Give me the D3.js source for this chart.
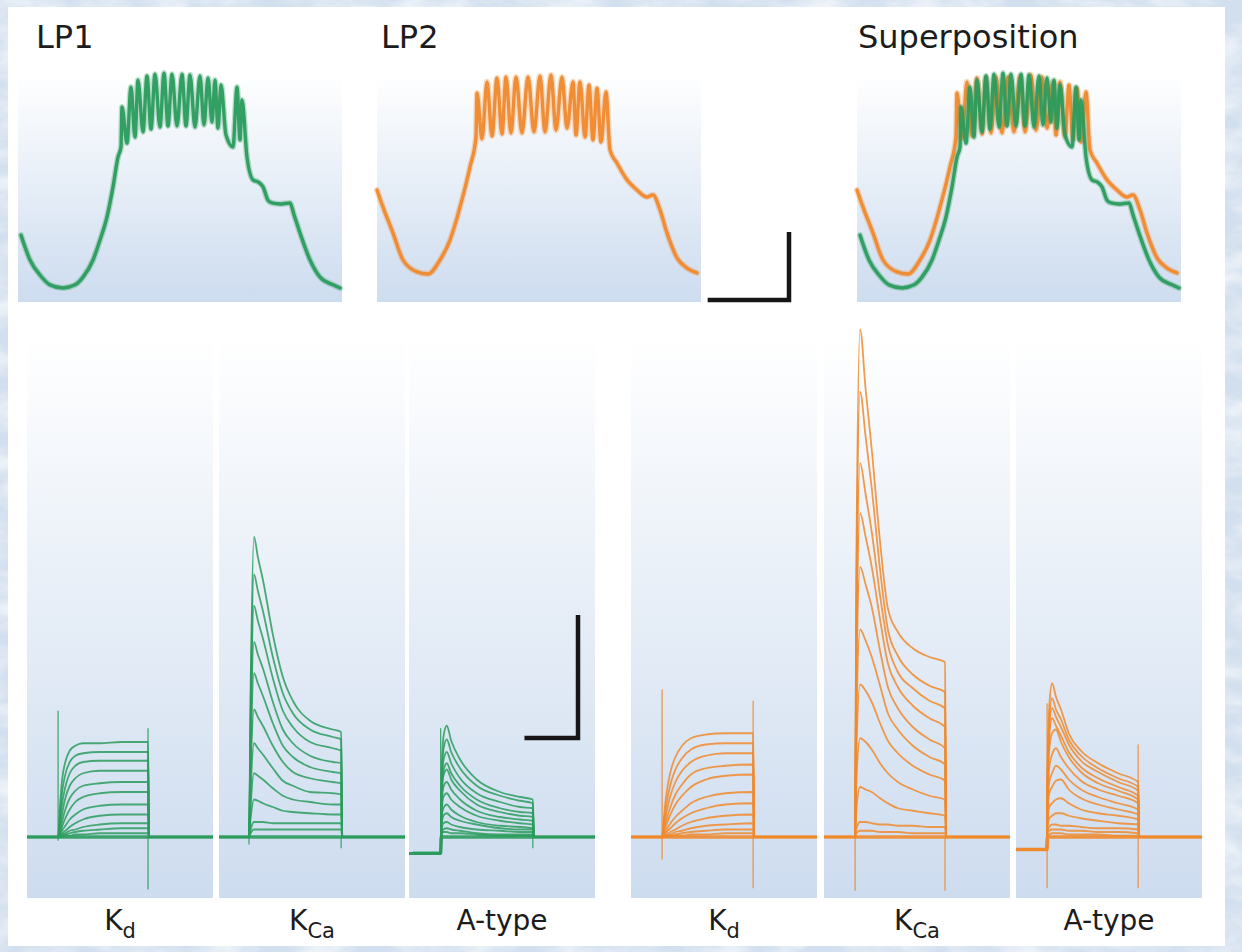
<!DOCTYPE html>
<html>
<head>
<meta charset="utf-8">
<script src="https://cdn.jsdelivr.net/npm/d3@7"></script>
<style>
  body { margin: 0; background: #fff; }
  svg { display: block; }
  text { font-family: "DejaVu Sans", sans-serif; fill: #1c1c1c; }
</style>
</head>
<body>
<div id="chart"></div>
<script>
// ---- voltage traces, one pyloric cycle: [time ms, membrane potential mV] ----
const lp1Trace = [
  [18,-50.9],[72,-58],[132,-62.3],[192,-65.1],[270,-66],[342,-65.1],[390,-62.9],[450,-58],
  [492,-52.3],[534,-45.7],[570,-37.1],[600,-28.6],[618,-25.7],
  [624,-14.3],[654,-24.6],[678,-8.6],[702,-22.9],[720,-6.6],[750,-21.4],[774,-5.4],[798,-20.6],
  [822,-4.9],[852,-20],[876,-4.6],[900,-19.7],[924,-4.9],[954,-19.7],[984,-4.9],[1008,-19.7],
  [1032,-5.1],[1062,-20],[1092,-5.4],[1116,-19.4],[1140,-6],[1164,-18.6],[1182,-6.6],[1200,-20.3],
  [1218,-8],[1248,-22.3],[1290,-25.7],[1314,-8.6],[1332,-23.7],[1344,-12.3],
  [1374,-28.6],[1410,-35.1],[1440,-35.7],[1470,-37.1],[1500,-40.9],[1524,-41.7],[1572,-42],
  [1632,-41.7],[1656,-45.1],[1692,-50.3],[1752,-58],[1812,-62.9],[1890,-65.1],[1932,-66]
];
const lp2Trace = [
  [0,-38],[36,-42.9],[96,-50.3],[156,-58],[240,-61.4],[306,-62],[378,-58],[438,-52.3],
  [498,-42.9],[558,-31.4],[594,-22.9],
  [600,-10.3],[630,-23.4],[660,-7.1],[690,-22.6],[720,-6],[750,-22],[774,-5.7],[804,-21.7],
  [834,-5.7],[870,-21.7],[906,-5.7],[942,-21.4],[978,-5.4],[1008,-21.4],[1044,-5.1],[1074,-20.9],
  [1110,-5.7],[1140,-20.3],[1176,-7.1],[1194,-22.3],[1218,-7.1],[1248,-22.9],[1272,-8],[1296,-23.7],
  [1320,-8.9],[1344,-24.3],[1374,-10],
  [1398,-26.6],[1440,-30.3],[1500,-35.1],[1560,-38],[1620,-40],[1656,-39.4],[1698,-43.7],
  [1740,-50.3],[1800,-57.4],[1860,-60.3],[1920,-61.7]
];

// ---- voltage-clamp current families (ms, nA) ----
// LP1 Kd
const kdLP1Time = [0,56,59,63,69,77,87,101,131,170,218,220,335];
const kdLP1 = [
  [0,0,22,45,60,69,73,75,75,76,76,0,0],
  [0,0,15,35,50,60,65,67,68,68,68,0,0],
  [0,0,10,26,40,51,57,60,61,61,61,0,0],
  [0,0,7,18,31,41,47,51,53,53,53,0,0],
  [0,0,4,12,22,31,37,41,43,44,44,0,0],
  [0,0,3,8,15,22,28,32,35,36,36,0,0],
  [0,0,2,5,9,14,18,22,25,26,26,0,0],
  [0,0,1,3,5,8,11,14,17,18,18,0,0],
  [0,0,1,2,3,5,6,8,10,11,11,0,0],
  [0,0,0,1,2,3,4,5,6,7,7,0,0],
  [0,0,0,0,1,1,2,2,3,3,3,0,0]
];
const kdLP1Rest = [[0,0],[335,0]];
const kdLP1Artifacts = [[56,101,-3],[218,87,-42]];

// LP1 KCa
const kcaLP1Time = [0,54,57,63,70,79,97,115,133,164,205,220,222,335];
const kcaLP1 = [
  [0,0,120,240,224,206,162,128,109,93,86,84,0,0],
  [0,0,105,210,197,181,144,115,99,86,80,78,0,0],
  [0,0,92,185,173,159,127,101,88,76,71,69,0,0],
  [0,0,78,156,146,135,108,86,75,65,60,59,0,0],
  [0,0,65,131,123,113,91,73,64,56,52,51,0,0],
  [0,0,51,102,96,89,73,60,52,47,44,43,0,0],
  [0,0,37,75,71,66,55,45,41,36,35,34,0,0],
  [0,0,25,51,49,46,39,33,30,28,26,26,0,0],
  [0,0,15,30,29,27,24,21,20,19,18,18,0,0],
  [0,0,6,12,12,12,11,11,11,11,11,11,0,0],
  [0,0,3,6,6,6,6,6,6,6,6,6,0,0]
];
const kcaLP1Rest = [[0,0],[335,0]];
const kcaLP1Artifacts = [[54,0,-6],[220,0,-9]];

// LP1 A-type
const aLP1Time = [0,57,59,62,68,76,92,122,164,200,223,225,335];
const aLP1 = [
  [-13,-13,53,80,89,77,62,46,36,32,30,0,0],
  [-13,-13,47,70,78,68,55,41,33,29,27,0,0],
  [-13,-13,41,61,68,59,47,35,28,24,23,0,0],
  [-13,-13,35,53,59,51,41,30,23,20,19,0,0],
  [-13,-13,32,49,54,46,37,26,20,17,16,0,0],
  [-13,-13,26,40,44,38,30,21,16,14,13,0,0],
  [-13,-13,21,32,35,30,24,17,13,11,10,0,0],
  [-13,-13,16,23,26,22,17,12,9,8,7,0,0],
  [-13,-13,11,17,19,16,13,10,7,6,6,0,0],
  [-13,-13,7,11,12,10,8,6,5,4,4,0,0],
  [-13,-13,4,6,7,6,5,3,2,2,2,0,0],
  [-13,-13,2,4,4,3,3,2,1,1,1,0,0]
];
const aLP1Rest = [[7,-13],[57,-13],[58,0],[335,0]];
const aLP1Artifacts = [[57,87,-13],[223,5,-9]];

// LP2 Kd
const kdLP2Time = [0,56,59,64,71,80,92,108,135,170,220,222,335];
const kdLP2 = [
  [0,0,15,35,52,64,73,79,82,83,83,0,0],
  [0,0,11,27,42,54,63,70,74,75,75,0,0],
  [0,0,8,20,33,44,53,60,65,67,67,0,0],
  [0,0,6,14,24,34,42,50,55,57,58,0,0],
  [0,0,4,10,18,26,33,40,46,49,50,0,0],
  [0,0,2,6,11,16,21,27,32,35,36,0,0],
  [0,0,1,4,7,11,15,19,23,26,27,0,0],
  [0,0,1,2,4,6,9,12,15,17,18,0,0],
  [0,0,0,1,2,4,5,7,9,10,11,0,0],
  [0,0,0,1,1,2,3,4,5,6,6,0,0],
  [0,0,0,0,1,1,1,2,2,3,3,0,0]
];
const kdLP2Rest = [[0,0],[335,0]];
const kdLP2Artifacts = [[56,118,-18],[220,109,-41]];

// LP2 KCa
const kcaLP2Time = [0,56,58,65,75,86,101,115,133,160,190,218,220,335];
const kcaLP2 = [
  [0,0,203,406,358,310,236,183,164,151,144,140,0,0],
  [0,0,178,356,320,279,214,166,145,130,121,116,0,0],
  [0,0,150,299,274,244,193,154,132,119,109,103,0,0],
  [0,0,130,259,240,216,174,139,120,105,95,88,0,0],
  [0,0,108,216,202,184,149,120,103,88,78,71,0,0],
  [0,0,83,166,157,144,121,99,86,73,64,58,0,0],
  [0,0,61,122,117,108,91,77,67,57,50,45,0,0],
  [0,0,40,79,76,70,59,51,44,38,33,30,0,0],
  [0,0,20,40,38,36,31,27,23,21,19,17,0,0],
  [0,0,6,12,12,11,10,10,9,9,8,8,0,0],
  [0,0,3,5,5,5,4,4,4,3,3,3,0,0]
];
const kcaLP2Rest = [[0,0],[335,0]];
const kcaLP2Artifacts = [[56,0,-43],[218,0,-43]];

// LP2 A-type
const aLP2Time = [0,55,57,60,65,72,81,95,117,148,184,220,222,335];
const aLP2 = [
  [-10,-10,62,105,123,112,102,83,69,59,51,44,0,0],
  [-10,-10,55,94,111,102,94,78,65,55,47,40,0,0],
  [-10,-10,50,88,103,96,88,74,61,52,44,37,0,0],
  [-10,-10,46,81,95,89,81,68,56,47,40,33,0,0],
  [-10,-10,40,70,83,86,76,64,52,43,37,30,0,0],
  [-10,-10,32,56,66,71,64,55,45,38,33,27,0,0],
  [-10,-10,25,44,51,57,54,46,38,32,27,22,0,0],
  [-10,-10,20,35,40,45,46,38,31,26,22,18,0,0],
  [-10,-10,14,24,27,30,31,27,22,19,17,14,0,0],
  [-10,-10,9,15,17,19,19,17,15,13,11,10,0,0],
  [-10,-10,5,8,10,10,9,9,8,7,7,6,0,0],
  [-10,-10,3,5,6,6,6,5,5,4,4,3,0,0],
  [-10,-10,1,2,3,3,3,2,2,2,1,1,0,0]
];
const aLP2Rest = [[0,-10],[56,-10],[57,0],[335,0]];
const aLP2Artifacts = [[56,107,-41],[220,74,-41]];

const topTitles = ["LP1", "LP2", "Superposition"];
const bottomLabels = [["K","d"],["K","Ca"],["A-type",""],["K","d"],["K","Ca"],["A-type",""]];
const scaleBarTop = { ms: 500, mV: 20 };
const scaleBarBottom = { ms: 100, nA: 100 };

// ---- layout ----
const W = 1242, H = 952;
const GREEN = "#2b9c5d", ORANGE = "#f0892d";
const topLayout = { y0: 73, y1: 302, w: 324, xs: [18, 377, 857], titleX: [36, 381, 858], titleY: 48 };
const botLayout = { y0: 335, y1: 898, w: 186, xs: [27, 219, 409, 631, 824, 1016], labelY: 930 };

const svg = d3.select("#chart").append("svg")
    .attr("width", W)
    .attr("height", H);

const defs = svg.append("defs");
const grad = defs.append("linearGradient").attr("id", "panelFill")
    .attr("x1", 0).attr("y1", 0).attr("x2", 0).attr("y2", 1);
grad.append("stop").attr("offset", "0%").attr("stop-color", "#ffffff");
grad.append("stop").attr("offset", "100%").attr("stop-color", "#cddcef");

// mottled paper behind the white sheet
const mottle = defs.append("filter").attr("id", "mottle")
    .attr("x", 0).attr("y", 0).attr("width", 1).attr("height", 1);
mottle.append("feTurbulence").attr("type", "fractalNoise")
    .attr("baseFrequency", "0.02 0.04").attr("numOctaves", 4).attr("seed", 7);
mottle.append("feColorMatrix").attr("type", "matrix")
    .attr("values", "0 0 0 0 1  0 0 0 0 1  0 0 0 0 1  1.4 0 0 0 -0.5");

svg.append("rect").attr("width", W).attr("height", H).attr("fill", "#d2dfee");
svg.append("rect").attr("width", W).attr("height", H).attr("fill", "#fff").attr("filter", "url(#mottle)");
svg.append("rect").attr("x", 8).attr("y", 7).attr("width", 1217).attr("height", 939).attr("fill", "#fff");

// ---- top row: voltage ----
const xTop = d3.scaleLinear().domain([0, 1944]).range([0, topLayout.w]);
const yTop = d3.scaleLinear().domain([-70, -4.57]).range([topLayout.y1, topLayout.y0]);
const vLine = d3.line()
    .x(d => xTop(d[0]))
    .y(d => yTop(d[1]))
    .curve(d3.curveMonotoneX);

const topSets = [
  [{ data: lp1Trace, color: GREEN }],
  [{ data: lp2Trace, color: ORANGE }],
  [{ data: lp2Trace, color: ORANGE }, { data: lp1Trace, color: GREEN }]
];

topLayout.xs.forEach((px, i) => {
  const g = svg.append("g").attr("transform", `translate(${px},0)`);
  g.append("rect")
      .attr("x", 0).attr("y", topLayout.y0)
      .attr("width", topLayout.w).attr("height", topLayout.y1 - topLayout.y0)
      .attr("fill", "url(#panelFill)");
  topSets[i].forEach(s => {
    g.append("path").attr("d", vLine(s.data))
        .attr("fill", "none").attr("stroke", s.color)
        .attr("stroke-width", 6).attr("stroke-opacity", 0.3)
        .attr("stroke-linejoin", "round").attr("stroke-linecap", "round");
    g.append("path").attr("d", vLine(s.data))
        .attr("fill", "none").attr("stroke", s.color)
        .attr("stroke-width", 3.4).attr("stroke-opacity", 0.95)
        .attr("stroke-linejoin", "round").attr("stroke-linecap", "round");
  });
  svg.append("text")
      .attr("x", topLayout.titleX[i]).attr("y", topLayout.titleY)
      .attr("font-size", 32)
      .text(topTitles[i]);
});

// top scale bar (500 ms / 20 mV)
{
  const cx = 789, cy = 300;
  const len = xTop(scaleBarTop.ms) - xTop(0);
  const hgt = yTop(-70) - yTop(-70 + scaleBarTop.mV);
  svg.append("path")
      .attr("d", `M${cx - len + 2},${cy} H${cx} V${cy - hgt + 2}`)
      .attr("fill", "none").attr("stroke", "#161616").attr("stroke-width", 4.5)
      .attr("stroke-linejoin", "miter");
}

// ---- bottom row: currents ----
const xBot = d3.scaleLinear().domain([0, 335]).range([0, botLayout.w]);
const yBot = d3.scaleLinear().domain([0, 100]).range([837, 712]);
const iLine = d3.line()
    .x(d => xBot(d[0]))
    .y(d => yBot(d[1]))
    .curve(d3.curveMonotoneX);

const families = [
  { time: kdLP1Time,  traces: kdLP1,  rest: kdLP1Rest,  art: kdLP1Artifacts,  color: GREEN },
  { time: kcaLP1Time, traces: kcaLP1, rest: kcaLP1Rest, art: kcaLP1Artifacts, color: GREEN },
  { time: aLP1Time,   traces: aLP1,   rest: aLP1Rest,   art: aLP1Artifacts,   color: GREEN },
  { time: kdLP2Time,  traces: kdLP2,  rest: kdLP2Rest,  art: kdLP2Artifacts,  color: ORANGE },
  { time: kcaLP2Time, traces: kcaLP2, rest: kcaLP2Rest, art: kcaLP2Artifacts, color: ORANGE },
  { time: aLP2Time,   traces: aLP2,   rest: aLP2Rest,   art: aLP2Artifacts,   color: ORANGE }
];

botLayout.xs.forEach((px, i) => {
  const fam = families[i];
  const g = svg.append("g").attr("transform", `translate(${px},0)`);
  g.append("rect")
      .attr("x", 0).attr("y", botLayout.y0)
      .attr("width", botLayout.w).attr("height", botLayout.y1 - botLayout.y0)
      .attr("fill", "url(#panelFill)");

  // capacitive transients at step on / off
  g.selectAll("line.art")
      .data(fam.art)
      .enter().append("line")
      .attr("x1", d => xBot(d[0])).attr("x2", d => xBot(d[0]))
      .attr("y1", d => yBot(d[1])).attr("y2", d => yBot(d[2]))
      .attr("stroke", fam.color).attr("stroke-width", 1.3).attr("stroke-opacity", 0.85);

  g.append("path").attr("d", iLine(fam.rest))
      .attr("fill", "none").attr("stroke", fam.color)
      .attr("stroke-width", 3.6).attr("stroke-opacity", 0.9);

  g.selectAll("path.trace")
      .data(fam.traces)
      .enter().append("path")
      .attr("class", "trace")
      .attr("d", row => iLine(row.map((v, k) => [fam.time[k], v])))
      .attr("fill", "none").attr("stroke", fam.color)
      .attr("stroke-width", 1.8).attr("stroke-opacity", 0.85)
      .attr("stroke-linejoin", "round");

  const lbl = svg.append("text")
      .attr("x", px + botLayout.w / 2).attr("y", botLayout.labelY)
      .attr("text-anchor", "middle")
      .attr("font-size", 28);
  lbl.append("tspan").text(bottomLabels[i][0]);
  if (bottomLabels[i][1]) {
    lbl.append("tspan").attr("font-size", 21).attr("dy", 8).text(bottomLabels[i][1]);
  }
});

// bottom scale bar (100 ms / 100 nA)
{
  const cx = 578, cy = 738;
  const len = xBot(scaleBarBottom.ms) - xBot(0);
  const hgt = yBot(0) - yBot(scaleBarBottom.nA);
  svg.append("path")
      .attr("d", `M${cx - len + 2},${cy} H${cx} V${cy - hgt + 2}`)
      .attr("fill", "none").attr("stroke", "#161616").attr("stroke-width", 4.5)
      .attr("stroke-linejoin", "miter");
}
</script>
</body>
</html>
